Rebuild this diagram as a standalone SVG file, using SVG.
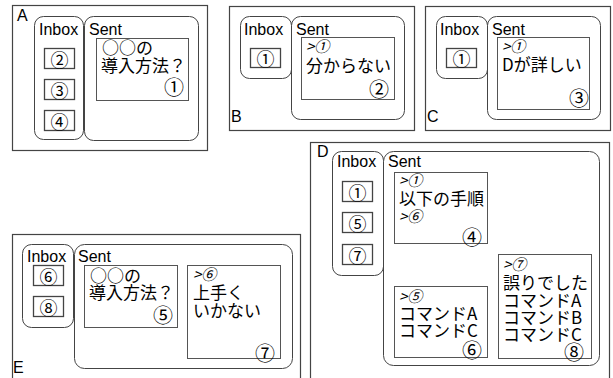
<svg xmlns="http://www.w3.org/2000/svg" width="613" height="378" viewBox="0 0 613 378">
<style>
.bg{fill:#fff}
.panel{fill:none;stroke:#444;stroke-width:1.2}
.box{fill:#fff;stroke:#444;stroke-width:1}
.msg{fill:#fff;stroke:#555;stroke-width:1}
.ib{fill:#fff;stroke:#444;stroke-width:1.3}
.lbl{font-family:"Liberation Sans","Noto Sans CJK JP",sans-serif;font-size:16px;fill:#000}
.jp{font-family:"Noto Sans CJK JP","Liberation Sans",sans-serif;font-size:17px;fill:#000}
.q{font-family:"Noto Sans CJK JP","Liberation Sans",sans-serif;font-size:15px;font-style:italic;fill:#000}
.num{font-family:"Noto Sans CJK JP",sans-serif;font-size:18px;fill:#000;text-anchor:middle;dominant-baseline:central}
.cn{font-family:"Noto Sans CJK JP",sans-serif;font-size:20px;fill:#000;text-anchor:end;dominant-baseline:central}
</style>
<rect class="bg" x="0" y="0" width="613" height="378"/>

<!-- Panel A -->
<g id="panelA">
<rect class="panel" x="12.5" y="5.5" width="195" height="145"/>
<text class="lbl" x="17" y="21">A</text>
<g id="A-inbox">
<rect class="box" x="34.5" y="16.5" width="49" height="123" rx="9"/>
<text class="lbl" x="39" y="35">Inbox</text>
<rect class="ib" x="44.5" y="48.5" width="30" height="20"/><text class="num" x="59.5" y="58.5">②</text>
<rect class="ib" x="44.5" y="79.5" width="30" height="20"/><text class="num" x="59.5" y="89.5">③</text>
<rect class="ib" x="44.5" y="110.5" width="30" height="20"/><text class="num" x="59.5" y="120.5">④</text>
</g>
<g id="A-sent">
<rect class="box" x="84.5" y="16.5" width="114" height="124" rx="9"/>
<text class="lbl" x="89" y="35">Sent</text>
<rect class="msg" x="96.5" y="38.5" width="92" height="62"/>
<text class="jp" x="102" y="54">○○の</text>
<text class="jp" x="101" y="72">導入方法？</text>
<text class="cn" x="184" y="86">①</text>
</g>
</g>

<!-- Panel B -->
<g id="panelB">
<rect class="panel" x="229.5" y="6.5" width="185" height="124"/>
<text class="lbl" x="231" y="122">B</text>
<g id="B-inbox">
<rect class="box" x="240.5" y="16.5" width="51" height="62" rx="9"/>
<text class="lbl" x="244" y="35">Inbox</text>
<rect class="ib" x="250.5" y="48.5" width="30" height="19"/><text class="num" x="265.5" y="58">①</text>
</g>
<g id="B-sent">
<rect class="box" x="291.5" y="16.5" width="113" height="103" rx="9"/>
<text class="lbl" x="296" y="35">Sent</text>
<rect class="msg" x="301.5" y="37.5" width="93" height="62"/>
<text class="q" x="306" y="52">&gt;①</text>
<text class="jp" x="306" y="72">分からない</text>
<text class="cn" x="389" y="88">②</text>
</g>
</g>

<!-- Panel C -->
<g id="panelC">
<rect class="panel" x="425.5" y="6.5" width="185" height="124"/>
<text class="lbl" x="427" y="122">C</text>
<g id="C-inbox">
<rect class="box" x="436.5" y="16.5" width="51" height="62" rx="9"/>
<text class="lbl" x="440" y="35">Inbox</text>
<rect class="ib" x="446.5" y="48.5" width="30" height="19"/><text class="num" x="461.5" y="58">①</text>
</g>
<g id="C-sent">
<rect class="box" x="487.5" y="16.5" width="113" height="103" rx="9"/>
<text class="lbl" x="492" y="35">Sent</text>
<rect class="msg" x="497.5" y="37.5" width="92" height="72"/>
<text class="q" x="502" y="52">&gt;①</text>
<text class="jp" x="502" y="71">Dが詳しい</text>
<text class="cn" x="589" y="97">③</text>
</g>
</g>

<!-- Panel D -->
<g id="panelD">
<rect class="panel" x="310.5" y="142.5" width="299" height="245"/>
<text class="lbl" x="317" y="157">D</text>
<g id="D-inbox">
<rect class="box" x="332.5" y="151.5" width="51" height="124" rx="9"/>
<text class="lbl" x="337" y="167">Inbox</text>
<rect class="ib" x="342.5" y="181.5" width="30" height="20"/><text class="num" x="357.5" y="191.5">①</text>
<rect class="ib" x="342.5" y="212.5" width="30" height="20"/><text class="num" x="357.5" y="222.5">⑤</text>
<rect class="ib" x="342.5" y="244.5" width="30" height="20"/><text class="num" x="357.5" y="254.5">⑦</text>
</g>
<g id="D-sent">
<rect class="box" x="383.5" y="151.5" width="216" height="214" rx="10"/>
<text class="lbl" x="388" y="167">Sent</text>
</g>
<g id="D-msg4">
<rect class="msg" x="394.5" y="172.5" width="93" height="71"/>
<text class="q" x="399" y="186">&gt;①</text>
<text class="jp" x="399" y="205">以下の手順</text>
<text class="q" x="399" y="222">&gt;⑥</text>
<text class="cn" x="482" y="236">④</text>
</g>
<g id="D-msg6">
<rect class="msg" x="394.5" y="286.5" width="93" height="71"/>
<text class="q" x="399" y="302">&gt;⑤</text>
<text class="jp" x="399" y="320">コマンドA</text>
<text class="jp" x="399" y="337">コマンドC</text>
<text class="cn" x="482" y="349">⑥</text>
</g>
<g id="D-msg8">
<rect class="msg" x="498.5" y="254.5" width="93" height="104"/>
<text class="q" x="503" y="270">&gt;⑦</text>
<text class="jp" x="503" y="289">誤りでした</text>
<text class="jp" x="503" y="307">コマンドA</text>
<text class="jp" x="503" y="324">コマンドB</text>
<text class="jp" x="503" y="341">コマンドC</text>
<text class="cn" x="584" y="351">⑧</text>
</g>
</g>

<!-- Panel E -->
<g id="panelE">
<rect class="panel" x="12.5" y="234.5" width="288" height="155"/>
<text class="lbl" x="13" y="373">E</text>
<g id="E-inbox">
<rect class="box" x="22.5" y="244.5" width="51" height="83" rx="9"/>
<text class="lbl" x="27" y="262">Inbox</text>
<rect class="ib" x="33.5" y="265.5" width="30" height="20"/><text class="num" x="48.5" y="275.5">⑥</text>
<rect class="ib" x="33.5" y="296.5" width="30" height="20"/><text class="num" x="48.5" y="306.5">⑧</text>
</g>
<g id="E-sent">
<rect class="box" x="74.5" y="244.5" width="218" height="124" rx="10"/>
<text class="lbl" x="78" y="262">Sent</text>
</g>
<g id="E-msg5">
<rect class="msg" x="84.5" y="265.5" width="93" height="62"/>
<text class="jp" x="90" y="282">○○の</text>
<text class="jp" x="89" y="299">導入方法？</text>
<text class="cn" x="173" y="314">⑤</text>
</g>
<g id="E-msg7">
<rect class="msg" x="187.5" y="265.5" width="93" height="93"/>
<text class="q" x="193" y="280">&gt;⑥</text>
<text class="jp" x="193" y="299">上手く</text>
<text class="jp" x="193" y="317">いかない</text>
<text class="cn" x="275" y="352">⑦</text>
</g>
</g>

<g id="connectors"></g>
</svg>
